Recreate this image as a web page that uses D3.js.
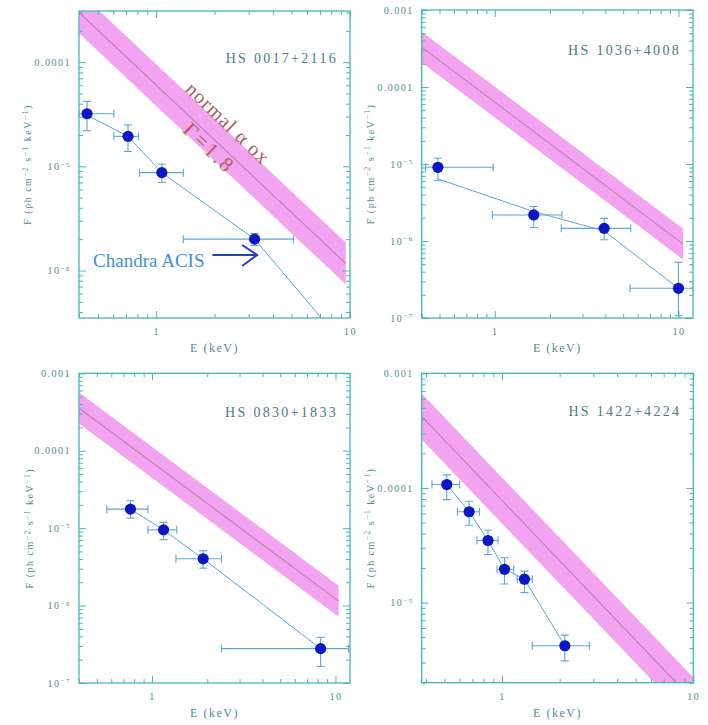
<!DOCTYPE html>
<html><head><meta charset="utf-8">
<script src="https://cdn.jsdelivr.net/npm/d3@7"></script>
<style>
body{margin:0;background:#fff;}
svg{display:block;}
text{font-family:"Liberation Serif","Times New Roman",serif;}
</style></head><body>
<svg id="c" width="708" height="725"></svg>
<script>
// ---------------- DATA ----------------
const sources = ["HS 0017+2116", "HS 1036+4008", "HS 0830+1833", "HS 1422+4224"];
const xDomains = [[0.4, 10], [0.4, 12], [0.4, 12], [0.38, 10]];
const yDomains = [[3.5e-7, 3.1e-4], [1e-7, 1e-3], [1e-7, 1e-3], [2e-6, 1e-3]];
const xTickValues = [1, 10];
const xTickLabels = ["1", "10"];
const yTickValues = [1e-7, 1e-6, 1e-5, 1e-4, 1e-3];
const yTickLabels = ["10⁻⁷", "10⁻⁶", "10⁻⁵", "0.0001", "0.001"];
const xLabel = "E (keV)";
const yLabel = "F (ph cm⁻² s⁻¹ keV⁻¹)";
const bandHalfDex = 0.2;

// HS 0017+2116
const e0017 = [0.44, 0.716, 1.07, 3.22];
const eLo0017 = [0.40, 0.605, 0.82, 1.38];
const eHi0017 = [0.605, 0.81, 1.38, 5.1];
const f0017 = [3.2e-5, 1.94e-5, 8.7e-6, 2.0e-6];
const fLo0017 = [2.2e-5, 1.39e-5, 7.0e-6, 1.74e-6];
const fHi0017 = [4.2e-5, 2.5e-5, 1.05e-5, 2.27e-6];
const fitE0017 = [0.44, 0.716, 1.07, 3.22, 7.07];
const fitF0017 = [3.1e-5, 1.94e-5, 8.7e-6, 2.0e-6, 3.55e-7];
const bandE0017 = [0.4, 9.5];
const bandF0017 = [3.0e-4, 1.17e-6];

// HS 1036+4008
const e1036 = [0.49, 1.63, 3.94, 10.0];
const eLo1036 = [0.42, 0.97, 2.3, 5.45];
const eHi1036 = [0.98, 2.32, 5.5, 12];
const f1036 = [9.06e-6, 2.18e-6, 1.46e-6, 2.43e-7];
const fLo1036 = [6.07e-6, 1.5e-6, 1.04e-6, 1.07e-7];
const fHi1036 = [1.19e-5, 2.8e-6, 1.97e-6, 5.3e-7];
const fitE1036 = [0.49, 1.64, 3.94, 10.0];
const fitF1036 = [6.4e-6, 2.4e-6, 1.35e-6, 2.43e-7];
const bandE1036 = [0.4, 10.6];
const bandF1036 = [3.3e-4, 9.1e-7];

// HS 0830+1833
const e0830 = [0.763, 1.156, 1.9, 8.3];
const eLo0830 = [0.567, 0.95, 1.35, 2.39];
const eHi0830 = [0.95, 1.365, 2.39, 11.8];
const f0830 = [1.76e-5, 9.5e-6, 4.02e-6, 2.78e-7];
const fLo0830 = [1.35e-5, 7.1e-6, 3.04e-6, 1.64e-7];
const fHi0830 = [2.26e-5, 1.19e-5, 5.1e-6, 3.89e-7];
const fitE0830 = [0.763, 1.156, 1.9, 8.3];
const fitF0830 = [1.76e-5, 9.5e-6, 4.02e-6, 2.78e-7];
const bandE0830 = [0.4, 10.4];
const bandF0830 = [3.56e-4, 1.14e-6];

// HS 1422+4224
const e1422 = [0.514, 0.673, 0.844, 1.03, 1.31, 2.13];
const eLo1422 = [0.43, 0.584, 0.739, 0.94, 1.2, 1.44];
const eHi1422 = [0.6, 0.762, 0.953, 1.15, 1.44, 2.86];
const f1422 = [1.07e-4, 6.2e-5, 3.48e-5, 1.95e-5, 1.6e-5, 4.2e-6];
const fLo1422 = [7.9e-5, 4.73e-5, 2.63e-5, 1.45e-5, 1.22e-5, 3.1e-6];
const fHi1422 = [1.3e-4, 7.65e-5, 4.3e-5, 2.46e-5, 1.88e-5, 5.2e-6];
const fitE1422 = [0.514, 0.673, 0.844, 1.03, 1.31, 2.13];
const fitF1422 = [1.07e-4, 6.2e-5, 3.48e-5, 1.95e-5, 1.6e-5, 4.2e-6];
const bandE1422 = [0.38, 10];
const bandF1422 = [4.2e-4, 1.4e-6];

// annotations (panel 1)
const bandLabel = "normal α ox";
const gammaLabel = "Γ=1.8";
const chandraLabel = "Chandra ACIS";

// ---------------- BUILD ----------------
const panels = [
  {E: e0017, Elo: eLo0017, Ehi: eHi0017, F: f0017, Flo: fLo0017, Fhi: fHi0017, fitE: fitE0017, fitF: fitF0017, bandE: bandE0017, bandF: bandF0017},
  {E: e1036, Elo: eLo1036, Ehi: eHi1036, F: f1036, Flo: fLo1036, Fhi: fHi1036, fitE: fitE1036, fitF: fitF1036, bandE: bandE1036, bandF: bandF1036},
  {E: e0830, Elo: eLo0830, Ehi: eHi0830, F: f0830, Flo: fLo0830, Fhi: fHi0830, fitE: fitE0830, fitF: fitF0830, bandE: bandE0830, bandF: bandF0830},
  {E: e1422, Elo: eLo1422, Ehi: eHi1422, F: f1422, Flo: fLo1422, Fhi: fHi1422, fitE: fitE1422, fitF: fitF1422, bandE: bandE1422, bandF: bandF1422}
];
// layout
const layout = [
  {x: 79, y: 11, w: 271, h: 307, titleY: 52, ylx: -51},
  {x: 421.7, y: 10, w: 271.3, h: 308, titleY: 45, ylx: -51},
  {x: 79, y: 373.3, w: 271, h: 309.7, titleY: 44, ylx: -49},
  {x: 421.7, y: 373.3, w: 271.6, h: 309.4, titleY: 43, ylx: -51}
];

const FRAME = "#46b6b8", TXT = "#4e8c8e", TITLE = "#4a7c80", ERR = "#5aa8d4",
      PT = "#0c16c4", BAND = "#f2a4f0", BANDLINE = "#c47ab8";

const SUP = {"⁻": "−", "⁰": "0", "¹": "1", "²": "2", "³": "3", "⁴": "4", "⁵": "5", "⁶": "6", "⁷": "7", "⁸": "8", "⁹": "9"};
// write a label into a text element, turning superscript characters into raised tspans
function richText(textSel, str, supSize, rise) {
  textSel.text(null);
  const parts = [];
  for (const ch of str) {
    const sup = ch in SUP;
    if (parts.length && parts[parts.length - 1].sup === sup) parts[parts.length - 1].s += sup ? SUP[ch] : ch;
    else parts.push({sup, s: sup ? SUP[ch] : ch});
  }
  parts.forEach(p => {
    const t = textSel.append("tspan").text(p.s);
    if (p.sup) t.attr("font-size", supSize).attr("dy", -rise);
    else if (textSel.selectAll("tspan").size() > 1) t.attr("dy", rise);
  });
}

const svg = d3.select("#c");
svg.append("rect").attr("width", 708).attr("height", 725).attr("fill", "#fff");

const isPow10 = v => Math.abs(Math.log10(v) - Math.round(Math.log10(v))) < 1e-6;

panels.forEach((p, i) => {
  const L = layout[i];
  const g = svg.append("g").attr("transform", `translate(${L.x},${L.y})`);
  const x = d3.scaleLog().domain(xDomains[i]).range([0, L.w]);
  const y = d3.scaleLog().domain(yDomains[i]).range([L.h, 0]);

  const clipId = "clip" + i;
  g.append("clipPath").attr("id", clipId).append("rect").attr("width", L.w).attr("height", L.h);
  const plot = g.append("g").attr("clip-path", `url(#${clipId})`);

  // band
  const hw = Math.pow(10, bandHalfDex);
  const bandPts = p.bandE.map((e, k) => ({e, f: p.bandF[k]}));
  plot.append("path").datum(bandPts)
    .attr("d", d3.area().x(d => x(d.e)).y0(d => y(d.f / hw)).y1(d => y(d.f * hw)))
    .attr("fill", BAND);
  plot.append("path").datum(bandPts)
    .attr("d", d3.line().x(d => x(d.e)).y(d => y(d.f)))
    .attr("fill", "none").attr("stroke", BANDLINE).attr("stroke-width", 1.1);

  // fit line
  const fitPts = p.fitE.map((e, k) => ({e, f: p.fitF[k]}));
  plot.append("path").datum(fitPts)
    .attr("d", d3.line().x(d => x(d.e)).y(d => y(d.f)))
    .attr("fill", "none").attr("stroke", ERR).attr("stroke-width", 1);

  // error bars
  const pts = p.E.map((e, k) => ({e, elo: p.Elo[k], ehi: p.Ehi[k], f: p.F[k], flo: p.Flo[k], fhi: p.Fhi[k]}));
  const eb = plot.append("g").attr("stroke", ERR).attr("stroke-width", 1.1).attr("fill", "none");
  const cap = 4;
  pts.forEach(d => {
    const cx = x(d.e), cy = y(d.f);
    const x0 = x(d.elo), x1 = x(d.ehi), y0 = y(d.flo), y1 = y(d.fhi);
    eb.append("line").attr("x1", x0).attr("x2", x1).attr("y1", cy).attr("y2", cy);
    eb.append("line").attr("x1", x0).attr("x2", x0).attr("y1", cy - cap).attr("y2", cy + cap);
    eb.append("line").attr("x1", x1).attr("x2", x1).attr("y1", cy - cap).attr("y2", cy + cap);
    eb.append("line").attr("x1", cx).attr("x2", cx).attr("y1", y0).attr("y2", y1);
    eb.append("line").attr("x1", cx - cap).attr("x2", cx + cap).attr("y1", y0).attr("y2", y0);
    eb.append("line").attr("x1", cx - cap).attr("x2", cx + cap).attr("y1", y1).attr("y2", y1);
  });
  plot.append("g").selectAll("circle").data(pts).join("circle")
    .attr("cx", d => x(d.e)).attr("cy", d => y(d.f)).attr("r", 5.6).attr("fill", PT);

  // axes
  const xd = xDomains[i], yd = yDomains[i];
  const xMajor = xTickValues.filter(v => v >= xd[0] * 0.999 && v <= xd[1] * 1.001);
  const yMajor = yTickValues.filter(v => v >= yd[0] * 0.999 && v <= yd[1] * 1.001);
  const xMinor = x.ticks().filter(v => !isPow10(v));
  const yMinor = y.ticks().filter(v => !isPow10(v));
  const xFmt = v => xTickLabels[xTickValues.findIndex(t => Math.abs(t - v) / t < 1e-6)];
  const yFmt = v => yTickLabels[yTickValues.findIndex(t => Math.abs(t - v) / t < 1e-6)];

  function styleAxis(sel) {
    sel.select(".domain").remove();
    sel.selectAll("line").attr("stroke", FRAME).attr("stroke-width", 1);
    sel.selectAll("text").attr("fill", TXT).attr("font-family", "'Liberation Serif',serif")
      .attr("font-size", 10).attr("letter-spacing", 1.5);
    sel.attr("font-family", null).attr("font-size", null);
  }
  // bottom
  g.append("g").attr("transform", `translate(0,${L.h})`)
    .call(d3.axisBottom(x).tickValues(xMajor).tickFormat(xFmt).tickSizeInner(-7).tickSizeOuter(0).tickPadding(10))
    .call(styleAxis);
  g.append("g").attr("transform", `translate(0,${L.h})`)
    .call(d3.axisBottom(x).tickValues(xMinor).tickFormat("").tickSizeInner(-4).tickSizeOuter(0))
    .call(styleAxis);
  // top
  g.append("g").call(d3.axisTop(x).tickValues(xMajor).tickFormat("").tickSizeInner(-7).tickSizeOuter(0)).call(styleAxis);
  g.append("g").call(d3.axisTop(x).tickValues(xMinor).tickFormat("").tickSizeInner(-4).tickSizeOuter(0)).call(styleAxis);
  // left
  const la = g.append("g")
    .call(d3.axisLeft(y).tickValues(yMajor).tickFormat(yFmt).tickSizeInner(-7).tickSizeOuter(0).tickPadding(8))
    .call(styleAxis);
  la.selectAll(".tick text").each(function () {
    const t = d3.select(this);
    const s = t.text();
    richText(t, s, 7, 3.5);
  });
  g.append("g").call(d3.axisLeft(y).tickValues(yMinor).tickFormat("").tickSizeInner(-4).tickSizeOuter(0)).call(styleAxis);
  // right
  g.append("g").attr("transform", `translate(${L.w},0)`)
    .call(d3.axisRight(y).tickValues(yMajor).tickFormat("").tickSizeInner(-7).tickSizeOuter(0)).call(styleAxis);
  g.append("g").attr("transform", `translate(${L.w},0)`)
    .call(d3.axisRight(y).tickValues(yMinor).tickFormat("").tickSizeInner(-4).tickSizeOuter(0)).call(styleAxis);

  // frame
  g.append("rect").attr("width", L.w).attr("height", L.h).attr("fill", "none")
    .attr("stroke", FRAME).attr("stroke-width", 1.3);

  // title
  g.append("text").attr("x", L.w - 12).attr("y", L.titleY).attr("text-anchor", "end")
    .attr("font-size", 14).attr("letter-spacing", 2.3).attr("fill", TITLE).text(sources[i]);

  // axis labels
  g.append("text").attr("x", L.w / 2).attr("y", L.h + 34).attr("text-anchor", "middle")
    .attr("font-size", 12).attr("letter-spacing", 1.5).attr("fill", TXT).text(xLabel);
  const yl = g.append("text").attr("transform", `translate(${L.ylx + 3},${L.h / 2}) rotate(-90)`)
    .attr("text-anchor", "middle")
    .attr("font-size", 10).attr("letter-spacing", 1.5).attr("fill", TXT);
  richText(yl, yLabel, 7.5, 3.5);

  // annotations for first panel
  if (i === 0) {
    g.append("text").attr("transform", `translate(${x(2.35)},${y(2.6e-5)}) rotate(44)`)
      .attr("text-anchor", "middle").attr("dominant-baseline", "central")
      .attr("font-size", 20).attr("letter-spacing", 1).attr("fill", "#b05c5c").text(bandLabel);
    g.append("text").attr("transform", `translate(${x(1.88)},${y(1.5e-5)}) rotate(44)`)
      .attr("text-anchor", "middle").attr("dominant-baseline", "central")
      .attr("font-size", 21).attr("letter-spacing", 2.5).attr("fill", "#b05c5c").text(gammaLabel);
    g.append("text").attr("x", x(0.473)).attr("y", y(1.08e-6))
      .attr("font-size", 19).attr("fill", "#4590d2").text(chandraLabel);
    const ax0 = x(1.95), ax1 = x(3.32), ay = y(1.41e-6);
    const ag = g.append("g").attr("stroke", "#2442c6").attr("stroke-width", 2).attr("fill", "none");
    ag.append("line").attr("x1", ax0).attr("x2", ax1).attr("y1", ay).attr("y2", ay);
    ag.append("path").attr("d", `M${ax1 - 15},${ay - 10}L${ax1},${ay}L${ax1 - 15},${ay + 11}`);
  }
});
</script>
</body></html>
